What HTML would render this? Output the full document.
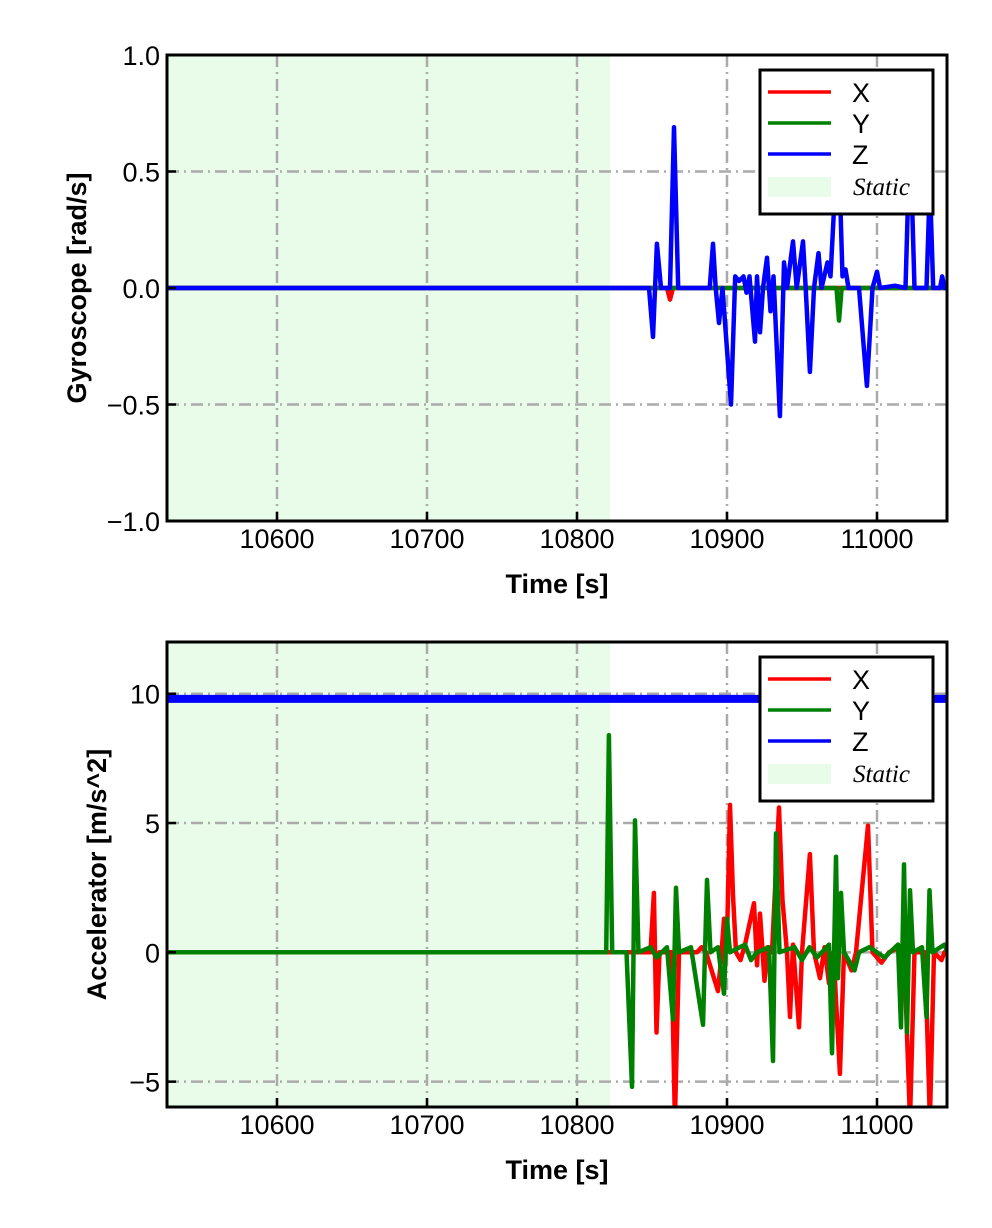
<!DOCTYPE html>
<html><head><meta charset="utf-8"><style>
body{margin:0;background:#fff}
svg{display:block;font-family:"Liberation Sans",sans-serif}
</style></head><body>
<svg id="chart" width="992" height="1228" xmlns="http://www.w3.org/2000/svg"></svg>
<script>
// ---------- data ----------
const xTicks = [10600, 10700, 10800, 10900, 11000];
const gyroTicks = [1.0, 0.5, 0.0, -0.5, -1.0];
const gyroTickLabels = ["1.0", "0.5", "0.0", "\u22120.5", "\u22121.0"];
const accTicks = [10, 5, 0, -5];
const accTickLabels = ["10", "5", "0", "\u22125"];
const staticEnd = 10822;

const gyroX = [[10526,0],[10860,0],[10862,-0.05],[10864,0],[11047,0]];
const gyroY = [[10526,0],[10973,0],[10974.7,-0.14],[10976.5,0],[11047,0]];
const gyroZ = [[10526,0],[10848,0],[10850.7,-0.21],[10853.3,0.19],[10856,0],[10862,0],[10864.7,0.69],[10867.5,0],[10888.5,0],[10890.7,0.19],[10892.5,0],[10894.7,-0.15],[10897,0.0],[10902.7,-0.5],[10905.5,0.05],[10908,0.03],[10911,0.05],[10913,-0.02],[10915,0.05],[10918.7,-0.23],[10920,0.05],[10922,-0.19],[10924,0.0],[10926.7,0.13],[10929,-0.1],[10931,0.05],[10935.3,-0.55],[10938,0.11],[10940,0.0],[10944,0.2],[10946.5,0.0],[10950.7,0.2],[10952.5,0.0],[10955.3,-0.36],[10958,0.0],[10961,0.15],[10963,0.0],[10967,0.11],[10969,0.05],[10972,0.42],[10975.3,0.42],[10977,0.05],[10979,0.08],[10981,0.0],[10988,0.0],[10993.3,-0.42],[10997,0.0],[11000,0.07],[11002,0.0],[11012,0.01],[11019,0.0],[11021,0.45],[11023,0.45],[11025,0.0],[11033,0.0],[11035.3,0.45],[11037.5,0.0],[11042,0.0],[11043.5,0.05],[11045,0.0],[11047,0.0]];

const accZ = [[10526,9.8],[11047,9.8]];
const accX = [[10526,0],[10849,0],[10851.3,2.3],[10853,-3.1],[10855,0],[10863,0],[10865.3,-6.5],[10868,0],[10880,0],[10883,0.2],[10886,0],[10894,-1.5],[10896,-0.3],[10898,1.3],[10900,0.5],[10902,5.7],[10904,2.2],[10906,0],[10909,-0.3],[10912,0.3],[10918,1.9],[10920,-0.5],[10922,1.5],[10925,-1.1],[10927,0.2],[10930,0],[10934.7,5.6],[10937,2.0],[10940,0],[10942,-2.5],[10944,0.3],[10948,-2.9],[10950,0],[10955.3,3.8],[10958,0],[10962,-1.0],[10965,0.2],[10968,-1.2],[10971,0],[10975.3,-4.7],[10978,0],[10983,-0.7],[10986,0],[10994,4.9],[10997,0],[11003,-0.4],[11008,0],[11015,0.2],[11019,-1.5],[11022,-6.5],[11025,0],[11032,0],[11035.3,-6.5],[11038,0],[11043,-0.3],[11045,0],[11047,0]];
const accY = [[10526,0],[10819.5,0],[10821.3,8.4],[10823.5,0],[10833,0],[10836.7,-5.2],[10838.7,5.1],[10841,0],[10849,0.2],[10853,-0.2],[10860,0.2],[10864,-2.6],[10866,2.5],[10868,0],[10876,0.2],[10884,-2.8],[10886.7,2.8],[10889,0],[10894,0.2],[10898,-1.6],[10900,1.3],[10902,0],[10912,0.3],[10916,-0.3],[10920,0],[10928,0.2],[10930.7,-4.2],[10932.7,4.6],[10935,0],[10945,0.2],[10950,-0.3],[10955,0.2],[10960,-0.2],[10968,0.3],[10970,-3.9],[10972.7,3.7],[10974,-1.0],[10976,2.3],[10978,0],[10985,-0.7],[10988,0],[10995,0.2],[11005,-0.2],[11014,0.3],[11016,-2.9],[11018,3.4],[11020,-3.1],[11022,2.4],[11024,0],[11030,0.2],[11033,-2.5],[11035,2.4],[11037,0],[11045,0.3],[11047,0]];

// ---------- helpers ----------
const NS = "http://www.w3.org/2000/svg";
const svg = document.getElementById("chart");
function mk(tag, attrs, parent){const e=document.createElementNS(NS,tag);for(const k in attrs)e.setAttribute(k,attrs[k]);(parent||svg).appendChild(e);return e;}

const X0=167, X1=947, T0=10526.67, T1=11046.67;
function xs(t){return X0+(t-T0)/(T1-T0)*(X1-X0);}

function panel(cfg){
  const {top,bot,vmin,vmax,ticks,tickLabels,ylabel,ylabelX,series,name}=cfg;
  const ys=v=>bot-(v-vmin)/(vmax-vmin)*(bot-top);
  const g=mk("g",{});
  
  
  const clipId="clip-"+name;
  const cp=mk("clipPath",{id:clipId},g); mk("rect",{x:X0,y:top,width:X1-X0,height:bot-top},cp);
  const st=mk("rect",{x:X0,y:top,width:xs(staticEnd)-X0,height:bot-top,fill:"#e9fce9"},g);
  
  
  xTicks.forEach(t=>{const l=mk("line",{x1:xs(t),x2:xs(t),y1:top,y2:bot,stroke:"#aaaaaa","stroke-width":2.5,"stroke-dasharray":"12 5 2 5"},g);
    
    });
  ticks.forEach(v=>{const l=mk("line",{x1:X0,x2:X1,y1:ys(v),y2:ys(v),stroke:"#aaaaaa","stroke-width":2.5,"stroke-dasharray":"12 5 2 5"},g);
    
    });
  const sg=mk("g",{"clip-path":"url(#"+clipId+")"},g);
  series.forEach(s=>{
    const p=mk("polyline",{points:s.data.map(d=>xs(d[0]).toFixed(1)+","+ys(d[1]).toFixed(1)).join(" "),fill:"none",stroke:s.color,"stroke-width":s.w,"stroke-linejoin":"round"},sg);
    
    
  });
  const fr=mk("rect",{x:X0,y:top,width:X1-X0,height:bot-top,fill:"none",stroke:"#000","stroke-width":3},g);
  
  
  xTicks.forEach(t=>{
    mk("line",{x1:xs(t),x2:xs(t),y1:bot,y2:bot-9,stroke:"#000","stroke-width":2.5},g);
    const tx=mk("text",{x:xs(t),y:bot+27,"text-anchor":"middle","font-size":27},g); tx.textContent=t;
    
    
  });
  ticks.forEach((v,i)=>{
    mk("line",{x1:X0,x2:X0+9,y1:ys(v),y2:ys(v),stroke:"#000","stroke-width":2.5},g);
    const tx=mk("text",{x:160,y:ys(v)+10,"text-anchor":"end","font-size":27},g); tx.textContent=tickLabels[i];
    
    
  });
  const xl=mk("text",{x:557,y:bot+72,"text-anchor":"middle","font-size":27,"font-weight":"bold"},g); xl.textContent="Time [s]";
  
  
  const cy=(top+bot)/2;
  const yl=mk("text",{x:ylabelX,y:cy,"text-anchor":"middle","font-size":27,"font-weight":"bold",transform:`rotate(-90 ${ylabelX} ${cy})`},g); yl.textContent=ylabel;
  
  
  const lt=cfg.legTop;
  const lg=mk("g",{},g);
  
  
  mk("rect",{x:760,y:lt,width:173,height:144,fill:"#fff",stroke:"#000","stroke-width":3},lg);
  const ents=[["X","#ff0000"],["Y","#008000"],["Z","#0000ff"]];
  ents.forEach((e,i)=>{
    const y=lt+22+i*31;
    mk("line",{x1:768,x2:831,y1:y,y2:y,stroke:e[1],"stroke-width":3.5},lg);
    const tx=mk("text",{x:852,y:y+10,"font-size":27},lg); tx.textContent=e[0];
    
    
  });
  mk("rect",{x:768,y:lt+107,width:63,height:20,fill:"#e9fce9"},lg);
  const stx=mk("text",{x:853,y:lt+125,"font-size":25,"font-style":"italic","font-family":"Liberation Serif, serif"},lg); stx.textContent="Static";
  
  
}

panel({name:"gyroscope-panel",top:55,bot:521,vmin:-1,vmax:1,ticks:gyroTicks,tickLabels:gyroTickLabels,
  ylabel:"Gyroscope [rad/s]",ylabelX:86,legTop:70,
  series:[{name:"gyro-x-line",data:gyroX,color:"#ff0000",w:4.5},{name:"gyro-y-line",data:gyroY,color:"#008000",w:4.5},{name:"gyro-z-line",data:gyroZ,color:"#0000ff",w:4.5}]});
panel({name:"accelerometer-panel",top:642,bot:1107,vmin:-5.98,vmax:12.0,ticks:accTicks,tickLabels:accTickLabels,
  ylabel:"Accelerator [m/s^2]",ylabelX:106,legTop:657,
  series:[{name:"acc-z-line",data:accZ,color:"#0000ff",w:8},{name:"acc-x-line",data:accX,color:"#ff0000",w:4.5},{name:"acc-y-line",data:accY,color:"#008000",w:4.5}]});
</script>
</body></html>
